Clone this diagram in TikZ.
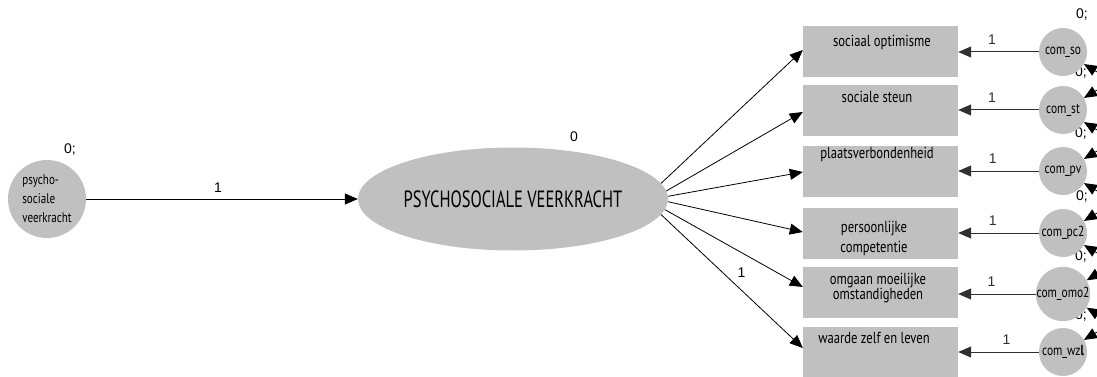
\documentclass[tikz,border=0pt]{standalone}
\usepackage{fontspec}
\setmainfont{PT Sans}[FakeStretch=0.79]
\newfontfamily\capfont{PT Sans}[FakeStretch=0.7]
\newfontfamily\numfont{Liberation Sans}
\usetikzlibrary{arrows.meta,shapes.geometric,calc}
\definecolor{fillgray}{HTML}{C0C0C0}
\definecolor{errline}{HTML}{303030}
\begin{document}
\begin{tikzpicture}[x=1pt,y=-1pt,
  tipa/.style={-{Triangle[length=13pt,width=11pt]}},
  conn/.style={tipa, line width=0.8pt, black},
  errconn/.style={tipa, line width=1pt, errline},
  covconn/.style={{Triangle[length=13pt,width=11pt]}-{Triangle[length=13pt,width=11pt]}, line width=0.8pt, black},
  boxnode/.style={rectangle, fill=fillgray, minimum width=155pt, minimum height=51pt, inner sep=0pt},
  boxtxt/.style={font=\fontsize{16}{20}\selectfont, align=center, inner sep=0pt},
  errnode/.style={circle, fill=fillgray, minimum size=48pt, inner sep=0pt, font=\fontsize{14.5}{15}\selectfont},
  num/.style={font=\numfont\fontsize{14}{16}\selectfont, inner sep=0pt},
]
\useasboundingbox (0,0) rectangle (1097,377);
\clip (0,0) rectangle (1097,377);
\fill[white] (0,0) rectangle (1097,377);

% exogenous latent
\node[num] (psy0) at (70,150) {0;};
\node[circle, fill=fillgray, minimum size=78pt, inner sep=0pt, align=left,
      font=\fontsize{14}{19}\selectfont] (psy) at (47,199) {psycho-\\sociale\\veerkracht};

% main latent
\node[num] (lat0) at (574,137) {0};
\node[ellipse, fill=fillgray, minimum width=310pt, minimum height=103pt, inner sep=0pt,
      font=\capfont\fontsize{23.5}{24}\selectfont] (lat) at (513,199) {PSYCHOSOCIALE VEERKRACHT};

\draw[conn] (psy) -- (lat) node[num, midway, above=6pt, xshift=-4pt] (l0) {1};

% indicator boxes
\node[boxnode] (b1) at (880.5,51.5) {};
\node[boxnode] (b2) at (880.5,111) {};
\node[boxnode] (b3) at (880.5,171) {};
\node[boxnode] (b4) at (880.5,233.5) {};
\node[boxnode] (b5) at (880.5,292.5) {};
\node[boxnode] (b6) at (880.5,352) {};

\node[boxtxt] (t1) at (882,42) {sociaal optimisme};
\node[boxtxt] (t2) at (877,97) {sociale steun};
\node[boxtxt] (t3) at (877,154) {plaatsverbondenheid};
\node[boxtxt] (t4) at (874,238) {persoonlijke\\competentie};
\node[boxtxt, font=\fontsize{16}{15}\selectfont] (t5) at (878,288) {omgaan moeilijke\\omstandigheden};
\node[boxtxt] (t6) at (874,338) {waarde zelf en leven};

% loadings
\draw[conn] (lat.6) -- ($(b1.west)+(0,-1.5)$);
\draw[conn] (lat.3.5) -- ($(b2.west)+(0,1)$);
\draw[conn] (lat.1) -- ($(b3.west)+(0,1)$);
\draw[conn] (lat.-1.5) -- ($(b4.west)+(0,-1.5)$);
\draw[conn] (lat.-4.5) -- ($(b5.west)+(0,-5.5)$);
\draw[conn] (lat.-6.5) -- ($(b6.west)+(0,-4)$) node[num, pos=0.56, yshift=17pt, xshift=1pt] (l6) {1};

% error labels (drawn before circles, which partly cover them)
\node[num] (v1) at (1082,15) {0;};
\node[num] (v2) at (1081,73) {0;};
\node[num] (v3) at (1081,134) {0;};
\node[num] (v4) at (1082,197) {0;};
\node[num] (v5) at (1081,257) {0;};
\node[num] (v6) at (1081,316) {0;};

% error terms
\node[errnode] (e1) at (1063,52) {com\_so};
\node[errnode] (e2) at (1063,110) {com\_st};
\node[errnode] (e3) at (1063,171) {com\_pv};
\node[errnode] (e4) at (1063,233) {com\_pc2};
\node[errnode] (e5) at (1063,294) {com\_omo2};
\node[errnode] (e6) at (1063,352) {com\_wz\textbf{l}};

% error paths
\draw[errconn] (e1.west) -- (b1.east |- e1.west) node[num, pos=0.58, above=7pt] (m1) {1};
\draw[errconn] (e2.west) -- (b2.east |- e2.west) node[num, pos=0.58, above=7pt] (m2) {1};
\draw[errconn] (e3.west) -- (b3.east |- e3.west) node[num, pos=0.57, above=7pt] (m3) {1};
\draw[errconn] (e4.west) -- (b4.east |- e4.west) node[num, pos=0.57, above=7pt] (m4) {1};
\draw[errconn] (e5.west) -- (b5.east |- e5.west) node[num, pos=0.57, above=7pt] (m5) {1};
\draw[errconn] (e6.west) -- (b6.east |- e6.west) node[num, pos=0.40, above=7pt] (m6) {1};

% error covariances (curves run off the right edge)
\draw[covconn] (e1.-30) .. controls +(30,18) and +(30,-18) .. (e2.30);
\draw[covconn] (e2.-30) .. controls +(30,18) and +(30,-18) .. (e3.30);
\draw[covconn] (e3.-30) .. controls +(30,18) and +(30,-18) .. (e4.30);
\draw[covconn] (e4.-30) .. controls +(30,18) and +(30,-18) .. (e5.30);
\draw[covconn] (e5.-30) .. controls +(30,18) and +(30,-18) .. (e6.30);
\end{tikzpicture}
\end{document}
